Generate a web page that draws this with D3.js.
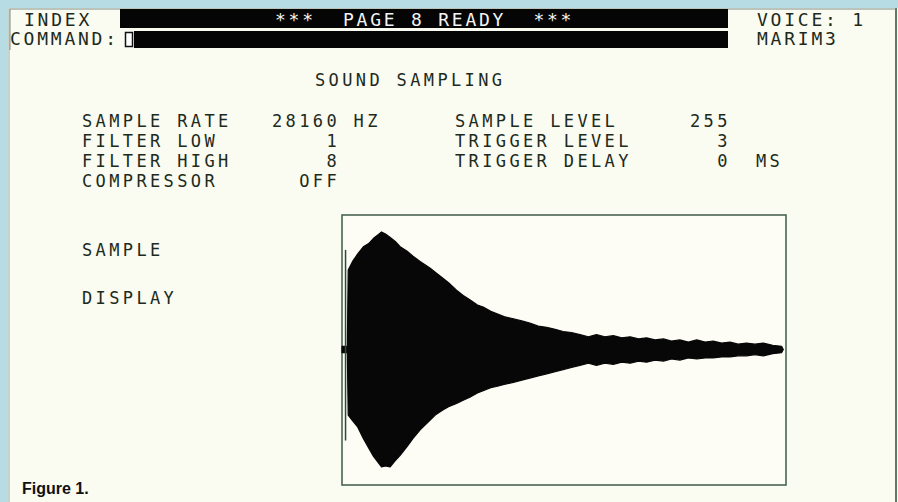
<!DOCTYPE html>
<html>
<head>
    <title>Sound Sampling</title>
</head>
<style>
    body { margin: 0; background: #b7dce3; }
    .mono { font-family: "DejaVu Sans Mono", monospace; white-space: pre; }
</style>
<body>
<svg width="898" height="502"></svg>
<script src="https://d3js.org/d3.v7.min.js"></script>
<script>
// settings table (left and right column)
var leftLabels = ["SAMPLE RATE", "FILTER LOW", "FILTER HIGH", "COMPRESSOR"];
var leftValues = ["28160", "1", "8", "OFF"];
var leftUnits = ["HZ", "", "", ""];
var rightLabels = ["SAMPLE LEVEL", "TRIGGER LEVEL", "TRIGGER DELAY"];
var rightValues = ["255", "3", "0"];
var rightUnits = ["", "", "MS"];

// waveform envelope, time in % of display, level 0..255 (128 = centre)
var time  = [0, 1.2, 1.4, 2.5, 3.5, 4.8, 6.0, 7.1, 8.0, 8.9, 9.8, 10.8, 12.0, 13.1, 14.6, 16.0, 17.6, 19.8, 21.0, 22.8,
             24.0, 25.8, 27.3, 28.8, 30.5, 31.8, 33.5, 34.8, 36.5, 38.6, 40.5, 42.3, 44.2, 46.1, 48.0, 49.8, 51.7, 53.6,
             55.5, 57.3, 59.2, 61.1, 63.0, 64.9, 66.8, 68.6, 70.5, 72.4, 74.2, 76.1, 78.0, 79.9, 81.8, 83.6, 85.5, 87.4,
             89.2, 91.1, 93.0, 94.9, 97.0, 99.0, 99.4];
var upper = [131, 131, 203, 212, 218, 225, 228, 233, 236, 239, 237, 234, 230, 225, 221, 216, 211, 205, 201, 195,
             191, 184, 179, 175, 170, 168, 164, 162, 159, 157, 155, 153, 150, 149, 147, 145, 144, 142,
             140, 142, 140, 141, 139, 140, 138, 139, 137, 138, 136, 137, 135, 137, 135, 136, 134, 135,
             133, 134, 133, 134, 132, 131, 128];
var lower = [125, 125, 66, 60, 55, 44, 35, 27, 22, 17, 18, 17, 23, 28, 36, 44, 52, 61, 66, 71,
             74, 77, 80, 83, 87, 89, 92, 93, 95, 97, 99, 101, 103, 105, 107, 109, 111, 113,
             115, 113, 115, 114, 116, 115, 117, 116, 118, 117, 119, 118, 120, 119, 120, 120, 121, 121,
             122, 122, 123, 122, 124, 125, 128];
// trigger spike at the very start
var spikeTime = 0.8, spikeLevels = [222, 42];

var svg = d3.select("svg");
var pitch = 13.6;
var ink = "#1c2a20";

svg.append("rect").attr("x", 8).attr("y", 8).attr("width", 890).attr("height", 494).attr("fill", "#fafbf1");
svg.append("line").attr("x1", 9).attr("x2", 9).attr("y1", 8).attr("y2", 502).attr("stroke", "#9aa8a0");
svg.append("line").attr("x1", 896).attr("x2", 896).attr("y1", 8).attr("y2", 502).attr("stroke", "#5d7a68").attr("stroke-width", 2);

// header
svg.append("path").attr("d", "M10,50V9H896").attr("fill", "none").attr("stroke", "#7d8c84");
svg.append("rect").attr("x", 120).attr("y", 9).attr("width", 608).attr("height", 19).attr("fill", "#050505");
svg.append("rect").attr("x", 134).attr("y", 31).attr("width", 594).attr("height", 17).attr("fill", "#050505");
svg.append("rect").attr("x", 125.5).attr("y", 32.5).attr("width", 7).attr("height", 14)
    .attr("fill", "#fff").attr("stroke", "#111").attr("stroke-width", 1.5);

function txt(x, y, s, size, col) {
    return svg.append("text").attr("class", "mono").attr("x", x).attr("y", y)
        .attr("font-size", size).attr("letter-spacing", pitch - size * 0.602)
        .attr("fill", col || ink).text(s);
}
txt(24, 26, "INDEX", 18);
txt(10, 45, "COMMAND:", 18);
txt(275, 26, "***  PAGE 8 READY  ***", 18, "#f4f4f4");
txt(757, 26, "VOICE: 1", 18);
txt(757, 45, "MARIM3", 18);

txt(315, 86, "SOUND SAMPLING", 17);

var rowY = d3.scalePoint().domain(d3.range(4)).range([127, 187]);
leftLabels.forEach(function(l, i) {
    txt(82, rowY(i), l, 17);
    txt(272 + (5 - leftValues[i].length) * pitch, rowY(i), leftValues[i], 17);
    if (leftUnits[i]) txt(272 + 6 * pitch, rowY(i), leftUnits[i], 17);
});
rightLabels.forEach(function(l, i) {
    txt(455, rowY(i), l, 17);
    txt(690 + (3 - rightValues[i].length) * pitch, rowY(i), rightValues[i], 17);
    if (rightUnits[i]) txt(756, rowY(i), rightUnits[i], 17);
});

txt(82, 256, "SAMPLE", 17);
txt(82, 304, "DISPLAY", 17);

// sample display
var box = {x: 342, y: 215, w: 444, h: 270};
var x = d3.scaleLinear().domain([0, 100]).range([box.x, box.x + box.w]);
var y = d3.scaleLinear().domain([0, 255]).range([box.y + box.h, box.y]);

svg.append("rect").attr("x", box.x).attr("y", box.y).attr("width", box.w).attr("height", box.h)
    .attr("fill", "#fdfdf6").attr("stroke", "#3d5a47").attr("stroke-width", 1.5);

var env = time.map(function(t, i) { return [t, upper[i], lower[i]]; });
var area = d3.area()
    .x(function(d) { return x(d[0]); })
    .y0(function(d) { return y(d[2]); })
    .y1(function(d) { return y(d[1]); });
svg.append("path").datum(env).attr("d", area).attr("fill", "#070707")
    .attr("stroke", "#070707").attr("stroke-width", 1.2).attr("stroke-linejoin", "round");

svg.append("line")
    .attr("x1", x(spikeTime)).attr("x2", x(spikeTime))
    .attr("y1", y(spikeLevels[0])).attr("y2", y(spikeLevels[1]))
    .attr("stroke", "#2e4a36").attr("stroke-width", 1.5);

svg.append("text").attr("x", 22).attr("y", 494)
    .attr("font-family", "Liberation Sans, Arial, sans-serif").attr("font-weight", "bold")
    .attr("font-size", 16).attr("fill", "#111").text("Figure 1.");
</script>
</body>
</html>
